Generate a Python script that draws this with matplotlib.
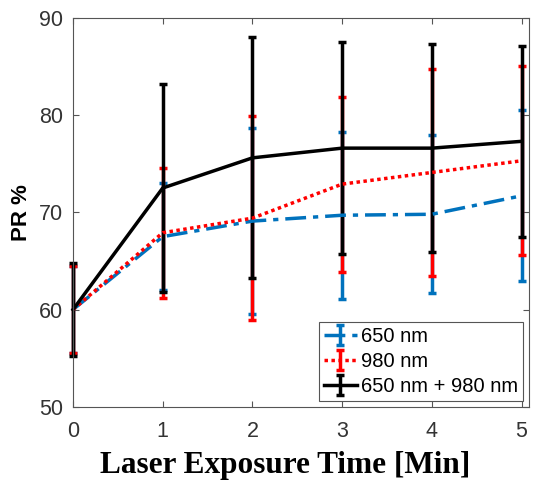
import numpy as np
import matplotlib.pyplot as plt

# exposure time in minutes
t = [0, 1, 2, 3, 4, 5]

# PR % means and error bars
pr_650 = [60.0, 67.5, 69.1, 69.7, 69.8, 71.7]
err_650 = [4.5, 5.5, 9.6, 8.6, 8.1, 8.8]

pr_980 = [60.0, 67.9, 69.4, 72.9, 74.1, 75.3]
err_980 = [4.5, 6.7, 10.5, 9.0, 10.6, 9.7]

pr_both = [60.0, 72.5, 75.6, 76.6, 76.6, 77.3]
err_both = [4.8, 10.7, 12.4, 10.9, 10.7, 9.8]

fig = plt.figure(figsize=(5.33, 4.82), dpi=100)
ax = fig.add_axes([0.137, 0.156, 0.855, 0.807])

series = [
    (pr_650, err_650, '#0072BD', (0, (6, 2, 1.5, 2)), '650 nm'),
    (pr_980, err_980, '#FF0000', (0, (1, 1)), '980 nm'),
    (pr_both, err_both, 'black', '-', '650 nm + 980 nm'),
]
for y, e, c, ls, lab in series:
    cont = ax.errorbar(t, y, yerr=e, color=c, ls=ls, lw=2.5,
                       capsize=3, capthick=2.5, label=lab)
    for art in cont.lines[1] + cont.lines[2]:
        art.set_clip_on(False)
    cont.lines[0].set_clip_on(False)

ax.set_xlim(0, 5.08)
ax.set_ylim(50, 90)
ax.set_xticks(t)
ax.set_yticks([50, 60, 70, 80, 90])

for s in ax.spines.values():
    s.set_color('#555555')
    s.set_linewidth(0.8)
ax.tick_params(direction='in', top=True, right=True, length=4, width=0.8,
               labelsize=15.5, colors='#555555', labelcolor='#333333')
ax.tick_params(axis='x', pad=10)
ax.tick_params(axis='y', pad=7)
for lab in ax.get_xticklabels() + ax.get_yticklabels():
    lab.set_family('Liberation Sans')

ax.set_ylabel('PR %', fontsize=16, fontweight='bold', family='Liberation Sans')
ax.yaxis.set_label_coords(-0.09, 0.5)
ax.set_xlabel('Laser Exposure Time [Min]', fontsize=22.5, fontweight='bold',
              family='Liberation Serif')
ax.xaxis.set_label_coords(0.465, -0.113)

leg = ax.legend(loc='lower right', prop={'family': 'Liberation Sans', 'size': 14.5},
                fancybox=False, framealpha=1, edgecolor='#555555',
                handlelength=1.6, handletextpad=0.2, borderpad=0.25,
                labelspacing=0.3, borderaxespad=0.3)
leg.get_frame().set_linewidth(0.8)

fig.savefig('out.png', dpi=100)
